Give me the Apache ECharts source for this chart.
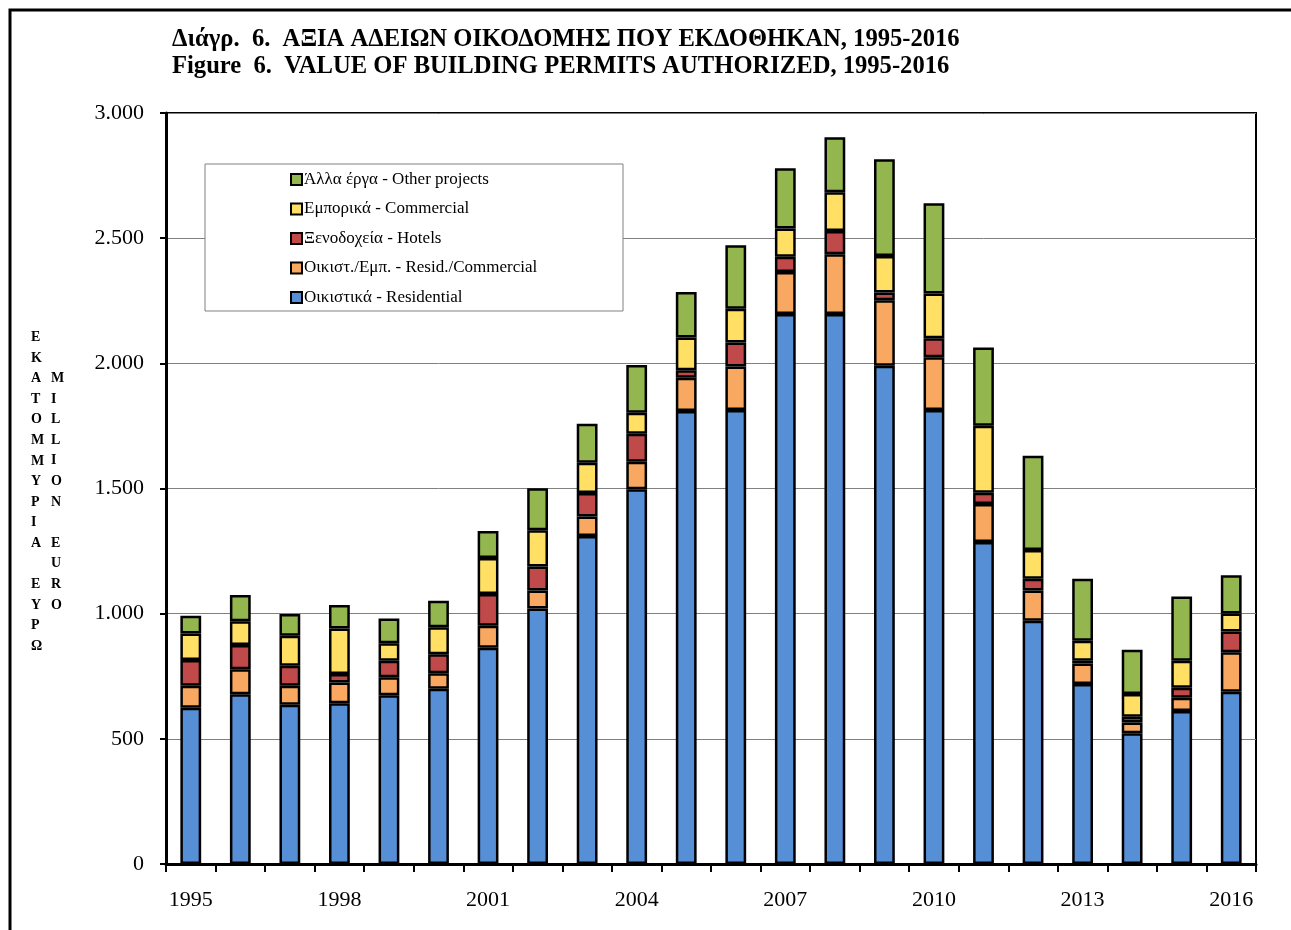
<!DOCTYPE html>
<html>
<head>
<meta charset="utf-8">
<script src="https://cdn.jsdelivr.net/npm/echarts@6/dist/echarts.min.js"></script>
<style>
  html, body { margin: 0; padding: 0; background: #fff; }
  #chart { width: 1291px; height: 930px; }
</style>
</head>
<body>
<div id="chart"></div>
<script>
var years = ['1995', '1996', '1997', '1998', '1999', '2000', '2001', '2002', '2003', '2004', '2005',
    '2006', '2007', '2008', '2009', '2010', '2011', '2012', '2013', '2014', '2015', '2016'];

// million euro
var residential = [624, 678, 636, 642, 674, 700, 864, 1021, 1310, 1497, 1810, 1814, 2197, 2197, 1990, 1814, 1286, 972, 719, 522, 611, 688];
var residCommercial = [88, 100, 76, 83, 72, 62, 88, 72, 78, 110, 132, 173, 168, 239, 262, 210, 152, 121, 82, 43, 53, 158];
var hotels = [103, 97, 80, 34, 66, 76, 127, 95, 94, 112, 30, 96, 61, 93, 31, 76, 45, 46, 11, 23, 40, 83];
var commercial = [106, 95, 120, 182, 70, 108, 143, 145, 121, 84, 131, 135, 113, 154, 146, 179, 268, 115, 80, 91, 108, 72];
var other = [71, 105, 87, 94, 99, 106, 108, 168, 156, 190, 182, 254, 240, 220, 386, 360, 312, 377, 247, 177, 257, 152];

var yTicks = [0, 500, 1000, 1500, 2000, 2500, 3000];

var serif = '"Liberation Serif", "DejaVu Serif", serif';

var names = {
    res: 'Οικιστικά - Residential',
    resCom: 'Οικιστ./Εμπ. - Resid./Commercial',
    hotels: 'Ξενοδοχεία - Hotels',
    com: 'Εμπορικά - Commercial',
    other: 'Άλλα έργα - Other projects'
};

function bar (name, data, color) {
    return {
        name: name,
        type: 'bar',
        stack: 'total',
        data: data,
        barWidth: '42%',
        itemStyle: { color: color, borderColor: '#000', borderWidth: 2.5 }
    };
}

var chart = echarts.init(document.getElementById('chart'));

chart.setOption({
    animation: false,
    backgroundColor: '#fff',
    title: {
        text: 'Διάγρ.  6.  ΑΞΙΑ ΑΔΕΙΩΝ ΟΙΚΟΔΟΜΗΣ ΠΟΥ ΕΚΔΟΘΗΚΑΝ, 1995-2016\nFigure  6.  VALUE OF BUILDING PERMITS AUTHORIZED, 1995-2016',
        left: 172,
        top: 26,
        padding: 0,
        textStyle: { fontFamily: serif, fontSize: 24.6, fontWeight: 'bold', color: '#000', lineHeight: 27 }
    },
    grid: {
        left: 166, right: 35, top: 113, bottom: 66,
        show: true, borderColor: '#000', borderWidth: 2, backgroundColor: 'transparent'
    },
    legend: {
        orient: 'vertical',
        left: 290,
        top: 171,
        padding: 0,
        itemGap: 12.5,
        itemWidth: 11,
        itemHeight: 11,
        icon: 'rect',
        z: 10,
        textStyle: { fontFamily: serif, fontSize: 17, color: '#000', padding: [0, 0, 0, -3] },
        data: [names.other, names.com, names.hotels, names.resCom, names.res]
    },
    xAxis: {
        type: 'category',
        data: years,
        axisLine: { lineStyle: { color: '#000', width: 3 } },
        axisTick: { show: true, interval: 0, length: 8, lineStyle: { color: '#000', width: 2 } },
        axisLabel: { interval: 2, margin: 25, fontFamily: serif, fontSize: 22, color: '#000' }
    },
    yAxis: {
        type: 'value',
        min: yTicks[0],
        max: yTicks[yTicks.length - 1],
        interval: 500,
        axisLine: { show: true, lineStyle: { color: '#000', width: 3 } },
        axisTick: { show: true, length: 6, lineStyle: { color: '#000', width: 2 } },
        axisLabel: {
            margin: 22, fontFamily: serif, fontSize: 22, color: '#000',
            formatter: function (v) { return v >= 1000 ? Math.floor(v / 1000) + '.' + String(v % 1000).padStart(3, '0') : String(v); }
        },
        splitLine: { lineStyle: { color: '#808080', width: 1 } }
    },
    graphic: [
        { type: 'rect', shape: { x: 10, y: 10, width: 1300, height: 1000 }, style: { fill: 'none', stroke: '#000', lineWidth: 3 }, silent: true },
        { type: 'rect', z: 5, shape: { x: 205, y: 164, width: 418, height: 147 }, style: { fill: '#fff', stroke: '#808080', lineWidth: 1 } },
        { type: 'text', left: 31, top: 327, style: { text: 'Ε\nΚ\nΑ\nΤ\nΟ\nΜ\nΜ\nΥ\nΡ\nΙ\nΑ\n \nΕ\nΥ\nΡ\nΩ', font: 'bold 14px ' + serif, lineHeight: 20.6, fill: '#000', align: 'center' } },
        { type: 'text', left: 51, top: 368, style: { text: 'M\nI\nL\nL\nI\nO\nN\n \nE\nU\nR\nO', font: 'bold 14px ' + serif, lineHeight: 20.6, fill: '#000', align: 'center' } }
    ],
    series: [
        bar(names.res, residential, '#568fd5'),
        bar(names.resCom, residCommercial, '#f8a860'),
        bar(names.hotels, hotels, '#c0494a'),
        bar(names.com, commercial, '#ffe065'),
        bar(names.other, other, '#94b64e')
    ]
});
</script>
</body>
</html>
